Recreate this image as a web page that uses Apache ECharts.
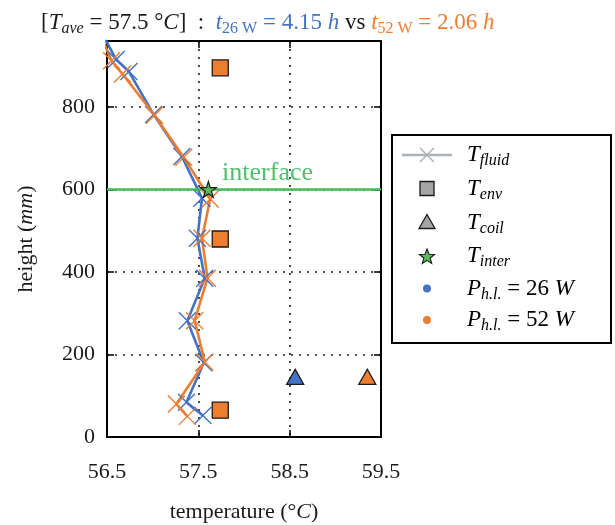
<!DOCTYPE html>
<html>
<head>
<meta charset="utf-8">
<script src="https://cdn.jsdelivr.net/npm/echarts@6/dist/echarts.min.js"></script>
<style>
html,body{margin:0;padding:0;background:#fff;}
#chart{width:615px;height:525px;}
</style>
</head>
<body>
<div id="chart"></div>
<script>
// ---- data ----
const xTicks = [56.5, 57.5, 58.5, 59.5];
const yTicks = [0, 200, 400, 600, 800];
const temps26   = [57.55, 57.37, 57.56, 57.38, 57.57, 57.49, 57.54, 57.32, 57.01, 56.74, 56.60, 56.42];
const heights26 = [52, 84, 180, 282, 385, 482, 579, 680, 782, 886, 915, 990];
const temps52   = [57.38, 57.26, 57.57, 57.46, 57.60, 57.54, 57.63, 57.34, 57.02, 56.67, 56.55, 56.40];
const heights52 = [50, 80, 182, 282, 385, 482, 577, 678, 780, 880, 912, 990];
const envTemps   = [57.74, 57.74, 57.74];
const envHeights = [65, 480, 895];
const coilTemps   = [58.56, 59.35];   // 26 W, 52 W
const coilHeights = [146, 146];
const interTemp = 57.61;
const interHeight = 600;

const BLUE = '#4472C4', ORANGE = '#ED7D31', GREEN = '#45b85a', GRAY = '#a5a5a5';
const FONT = 'Liberation Serif';
const XPATH = 'path://M0,0L10,10M10,0L0,10';
const STAR = 'path://M50,0L61.8,35.5L100,35.5L69.1,57.5L80.9,93L50,71L19.1,93L30.9,57.5L0,35.5L38.2,35.5Z';

const zip = (a, b) => a.map((v, i) => [v, b[i]]);

const chart = echarts.init(document.getElementById('chart'), null, {renderer: 'canvas'});

const axisCommon = {
  axisLine: {show: true, onZero: false, lineStyle: {color: '#000', width: 2}},
  axisTick: {show: true, inside: true, length: 7, lineStyle: {color: '#000', width: 1.5}},
};
const tk = (extra) => Object.assign({fontFamily: FONT, fontWeight: 'normal', color: '#1a1a1a'}, extra);

const option = {
  animation: false,
  backgroundColor: '#fff',
  title: {
    left: 36, top: 4,
    text: '{k|[}{i|T}{s|ave}{k| = 57.5 °}{i|C}{k|]  :  }{bi|t}{bs|26 W}{b| = 4.15 }{bi|h}{k| vs }{oi|t}{os|52 W}{o| = 2.06 }{oi|h}',
    textStyle: {
      fontWeight: 'normal',
      rich: {
        k:  tk({fontSize: 23, lineHeight: 28}),
        i:  tk({fontSize: 23, fontStyle: 'italic', lineHeight: 28}),
        s:  tk({fontSize: 16, fontStyle: 'italic', lineHeight: 16, verticalAlign: 'bottom'}),
        b:  tk({fontSize: 23, color: BLUE, lineHeight: 28}),
        bi: tk({fontSize: 23, fontStyle: 'italic', color: BLUE, lineHeight: 28}),
        bs: tk({fontSize: 16, color: BLUE, lineHeight: 16, verticalAlign: 'bottom'}),
        o:  tk({fontSize: 23, color: ORANGE, lineHeight: 28}),
        oi: tk({fontSize: 23, fontStyle: 'italic', color: ORANGE, lineHeight: 28}),
        os: tk({fontSize: 16, color: ORANGE, lineHeight: 16, verticalAlign: 'bottom'})
      }
    }
  },
  grid: {left: 107, top: 41, right: 234, bottom: 88, containLabel: false, outerBoundsMode: 'none'},
  xAxis: [
    Object.assign({}, axisCommon, {
      type: 'value', min: xTicks[0], max: xTicks[xTicks.length - 1], interval: 1,
      position: 'bottom',
      name: '{k|temperature (°}{i|C}{k|)}',
      nameLocation: 'middle', nameGap: 64,
      nameTextStyle: {rich: {
        k: tk({fontSize: 22}),
        i: tk({fontSize: 22, fontStyle: 'italic'})
      }},
      axisLabel: tk({fontSize: 22, margin: 24, formatter: v => v.toFixed(1)}),
      splitLine: {show: true, lineStyle: {color: '#222', width: 1.6, type: [2, 6]}}
    }),
    Object.assign({}, axisCommon, {
      type: 'value', min: xTicks[0], max: xTicks[xTicks.length - 1], interval: 1,
      position: 'top', axisLabel: {show: false}, splitLine: {show: false}
    })
  ],
  yAxis: [
    Object.assign({}, axisCommon, {
      type: 'value', min: 0, max: 960, interval: 200,
      position: 'left',
      name: '{k|height (}{i|mm}{k|)}',
      nameLocation: 'middle', nameGap: 70, nameRotate: 90,
      nameTextStyle: {rich: {
        k: tk({fontSize: 22}),
        i: tk({fontSize: 22, fontStyle: 'italic'})
      }},
      axisLabel: tk({fontSize: 22, margin: 12, showMaxLabel: false}),
      splitLine: {show: true, lineStyle: {color: '#222', width: 1.6, type: [2, 6]}}
    }),
    Object.assign({}, axisCommon, {
      type: 'value', min: 0, max: 960, interval: 200,
      position: 'right', axisLabel: {show: false}, splitLine: {show: false}
    })
  ],
  series: [
    {
      name: 'interface', type: 'line', data: [],
      markLine: {
        silent: true, symbol: 'none', animation: false,
        lineStyle: {color: GREEN, width: 2.6, type: 'solid'},
        label: {show: false},
        data: [{yAxis: interHeight}]
      }
    },
    {
      name: 'fluid26', type: 'line', data: zip(temps26, heights26),
      symbol: XPATH, symbolSize: 17, showAllSymbol: true, clip: true,
      lineStyle: {color: BLUE, width: 2.6},
      itemStyle: {color: BLUE, borderColor: BLUE, borderWidth: 1.4},
      z: 3
    },
    {
      name: 'fluid52', type: 'line', data: zip(temps52, heights52),
      symbol: XPATH, symbolSize: 17, showAllSymbol: true, clip: true,
      lineStyle: {color: ORANGE, width: 2.6},
      itemStyle: {color: ORANGE, borderColor: ORANGE, borderWidth: 1.4},
      z: 3
    },
    {
      name: 'env', type: 'scatter', data: zip(envTemps, envHeights),
      symbol: 'rect', symbolSize: 16,
      itemStyle: {color: ORANGE, borderColor: '#1a1a1a', borderWidth: 1.3, opacity: 1},
      z: 4
    },
    {
      name: 'coil', type: 'scatter', data: zip(coilTemps, coilHeights).map((d, i) => ({
        value: d, itemStyle: {color: i === 0 ? BLUE : ORANGE}
      })),
      symbol: 'triangle', symbolSize: [17, 15],
      itemStyle: {borderColor: '#1a1a1a', borderWidth: 1.3, opacity: 1},
      z: 4
    },
    {
      name: 'inter', type: 'scatter', data: [[interTemp, interHeight]],
      symbol: STAR, symbolSize: 16,
      itemStyle: {color: '#5cb85c', borderColor: '#1a1a1a', borderWidth: 1.2, opacity: 1},
      z: 5
    }
  ]
};

chart.setOption(option);

// ---- legend & annotation (graphic) ----
const lgX = 392, lgY = 135, lgW = 219, lgH = 208;
const rowY = [155, 188.5, 222.5, 256, 288.5, 320];
const iconX = 427, textX = 467;
const lgRich = {
  i: tk({fontSize: 23, fontStyle: 'italic', lineHeight: 28}),
  k: tk({fontSize: 23, lineHeight: 28}),
  s: tk({fontSize: 16, fontStyle: 'italic', lineHeight: 16, verticalAlign: 'bottom'})
};
const lgTexts = [
  '{i|T}{s|fluid}',
  '{i|T}{s|env}',
  '{i|T}{s|coil}',
  '{i|T}{s|inter}',
  '{i|P}{s|h.l.}{k| = 26 }{i|W}',
  '{i|P}{s|h.l.}{k| = 52 }{i|W}'
];
const g = [];
g.push({type: 'rect', shape: {x: lgX, y: lgY, width: lgW, height: lgH},
        style: {fill: '#fff', stroke: '#000', lineWidth: 2}, z: 100});
// fluid icon
g.push({type: 'line', shape: {x1: 402, y1: rowY[0], x2: 452, y2: rowY[0]},
        style: {stroke: '#a9b3b8', lineWidth: 2.4}, z: 101});
g.push({type: 'polyline', shape: {points: [[iconX - 7, rowY[0] - 7], [iconX + 7, rowY[0] + 7]]},
        style: {stroke: '#a9b3b8', lineWidth: 1.5}, z: 101});
g.push({type: 'polyline', shape: {points: [[iconX + 7, rowY[0] - 7], [iconX - 7, rowY[0] + 7]]},
        style: {stroke: '#a9b3b8', lineWidth: 1.5}, z: 101});
// env icon
g.push({type: 'rect', shape: {x: iconX - 7, y: rowY[1] - 7, width: 14, height: 14},
        style: {fill: GRAY, stroke: '#1a1a1a', lineWidth: 1.3}, z: 101});
// coil icon
g.push({type: 'polygon', shape: {points: [[iconX, rowY[2] - 8], [iconX + 8, rowY[2] + 6], [iconX - 8, rowY[2] + 6]]},
        style: {fill: GRAY, stroke: '#1a1a1a', lineWidth: 1.3}, z: 101});
// inter icon (star)
(function () {
  const pts = [];
  for (let k = 0; k < 10; k++) {
    const r = k % 2 === 0 ? 8 : 3.4;
    const a = -Math.PI / 2 + k * Math.PI / 5;
    pts.push([iconX + r * Math.cos(a), rowY[3] + 1 + r * Math.sin(a)]);
  }
  g.push({type: 'polygon', shape: {points: pts},
          style: {fill: '#5cb85c', stroke: '#1a1a1a', lineWidth: 1.1}, z: 101});
})();
g.push({type: 'circle', shape: {cx: iconX, cy: rowY[4], r: 4}, style: {fill: BLUE}, z: 101});
g.push({type: 'circle', shape: {cx: iconX, cy: rowY[5], r: 4}, style: {fill: ORANGE}, z: 101});
lgTexts.forEach((t, i) => {
  g.push({type: 'text', x: textX, y: rowY[i], z: 101,
          style: {text: t, rich: lgRich, verticalAlign: 'middle', align: 'left'}});
});
// "interface" annotation near the interface line
const ip = chart.convertToPixel({gridIndex: 0}, [57.76, interHeight]);
g.push({type: 'text', x: ip[0], y: ip[1] - 3, z: 50,
        style: {text: 'interface', fontFamily: FONT, fontSize: 26, fill: '#4cc26a',
                align: 'left', verticalAlign: 'bottom'}});
chart.setOption({graphic: g});
</script>
</body>
</html>
